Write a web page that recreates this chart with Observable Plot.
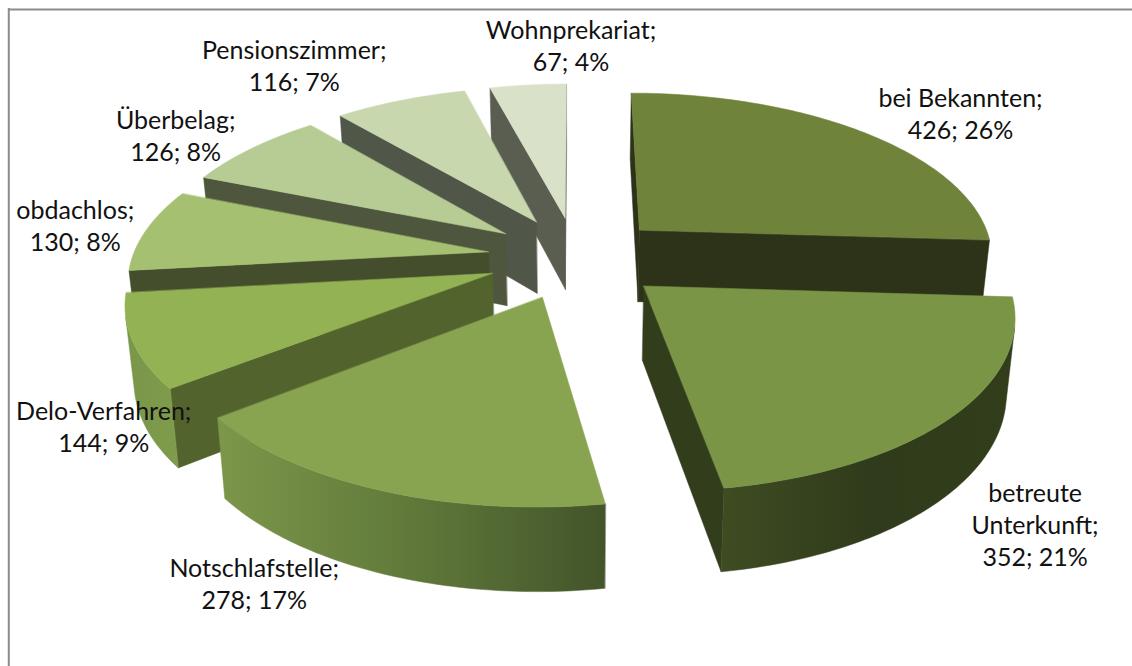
<!DOCTYPE html>
<html><head><meta charset="utf-8">
<script src="https://cdn.jsdelivr.net/npm/d3@7"></script>
<script src="https://cdn.jsdelivr.net/npm/@observablehq/plot@0.6"></script>
<style>html,body{margin:0;padding:0;background:#fff}svg{display:block}</style>
</head><body><div id="chart"></div>
<script>
const categories = ["bei Bekannten","betreute\nUnterkunft","Notschlafstelle","Delo-Verfahren","obdachlos","Überbelag","Pensionszimmer","Wohnprekariat"];
const counts = [426,352,278,144,130,126,116,67];
const topColors = ["#6f833b","#7a9546","#88a451","#93b254","#a5c071","#b7cc94","#c9d7af","#d9e2c9"];
const cutColors = ["#2c3318","#323d1c","#4a5a2a","#52632e","#444d2c","#4e563d","#505748","#5a5e50"];
// Outer wall shading, left to right across each wall
const wallStops = [
  ["#2c3318","#2c3318"],
  ["#3f4c22","#303b1b","#323d1c"],
  ["#7c974a","#60793a","#43542a"],
  ["#7a964a","#7f9b4b"],
  ["#444d2c","#444d2c"],
  ["#4e563d","#4e563d"],
  ["#505748","#505748"],
  ["#5a5e50","#5a5e50"]
];
const drawOrder = [7,6,5,4,3,0,2,1];
const labelDx = [97,82,-125,-29,-71,-76,-106,43];
const labelDy = [-20,108,93,84,-5,-14,-36,-40];

// Pie geometry (unit pie seen in perspective)
const view = {cx:575.6, cy:257, rx:356, ry:165, persp:0.15, explode:0.25, depth:73, floor:0.98};
const total = d3.sum(counts);
function project(x, y, low) {
  const s = 1/(1 - view.persp*y), b = low ? view.floor : 1;
  return [view.cx + view.rx*x*s*b, view.cy + view.ry*y*s*b + (low ? view.depth*s : 0)];
}
const rad = d => d*Math.PI/180;
let cum = 0;
const slices = counts.map((c,i) => {
  const a0 = cum/total*360; cum += c; const a1 = cum/total*360;
  const m = rad((a0+a1)/2);
  const ox = view.explode*Math.sin(m), oy = -view.explode*Math.cos(m);
  return {i,a0,a1,ox,oy, rim:a => [ox+Math.sin(rad(a)), oy-Math.cos(rad(a))]};
});
const area = p => d3.polygonArea(p);
const rows = []; let fid = 0;
function face(pts, fill){ const id = fid++; pts.forEach(([x,y]) => rows.push({id,x,y,fill})); }
for (const k of drawOrder) {
  const s = slices[k];
  const apex = [s.ox,s.oy];
  const quad = (u,v) => [project(...u),project(...v),project(...v,true),project(...u,true)];
  const qs = quad(apex,s.rim(s.a0));
  if (area(qs) > 0) face(qs, cutColors[k]);
  const qe = quad(apex,s.rim(s.a1));
  if (area(qe) < 0) face(qe, cutColors[k]);
  const steps = Math.ceil((s.a1-s.a0)/1);
  const upper = [], lower = [];
  for (let j=0;j<steps;j++){
    const a = s.a0+(s.a1-s.a0)*j/steps, b = s.a0+(s.a1-s.a0)*(j+1)/steps;
    if (area(quad(s.rim(a),s.rim(b))) > 0) {
      if (!upper.length) { upper.push(project(...s.rim(a))); lower.push(project(...s.rim(a),true)); }
      upper.push(project(...s.rim(b))); lower.push(project(...s.rim(b),true));
    }
  }
  if (upper.length) face([...upper,...lower.reverse()], `url(#wall${k})`);
  const top = [project(...apex)];
  for (let j=0;j<=steps;j++) top.push(project(...s.rim(s.a0+(s.a1-s.a0)*j/steps)));
  face(top, topColors[k]);
}
const labels = slices.map(s => {
  const [x,y] = project(...s.rim((s.a0+s.a1)/2));
  return {x:x+labelDx[s.i], y:y+labelDy[s.i],
    text:`${categories[s.i]};\n${counts[s.i]}; ${Math.round(counts[s.i]/total*100)}%`};
});
const chart = Plot.plot({
  width:1132, height:666, margin:0,
  style:{fontFamily:"Lato", background:"#fff"},
  x:{domain:[0,1132], range:[0,1132], axis:null},
  y:{domain:[0,666], range:[0,666], axis:null},
  color:{type:"identity"},
  marks:[
    Plot.ruleX([8.3],{y1:8,y2:666,stroke:"#8c8c8c",strokeWidth:2}),
    Plot.ruleY([9],{x1:8,x2:1132,stroke:"#8c8c8c",strokeWidth:2}),
    Plot.line(rows,{x:"x",y:"y",z:"id",fill:"fill",stroke:"fill",strokeWidth:0.5,curve:"linear-closed"}),
    Plot.text(labels,{x:"x",y:"y",text:"text",fontSize:25,lineHeight:1.28,fill:"#111",textAnchor:"middle"})
  ]
});
const defs = d3.select(chart).insert("defs",":first-child");
wallStops.forEach((stops,k) => {
  const g = defs.append("linearGradient").attr("id",`wall${k}`);
  stops.forEach((c,j) => g.append("stop").attr("offset",j/(stops.length-1)).attr("stop-color",c));
});
document.getElementById("chart").append(chart);
</script></body></html>
